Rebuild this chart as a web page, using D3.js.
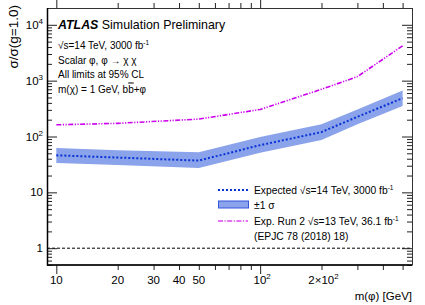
<!DOCTYPE html>
<html>
<head>
<meta charset="utf-8">
<script src="https://cdn.jsdelivr.net/npm/d3@7"></script>
<style>
  body { margin: 0; background: #fff; }
  svg { font-family: "Liberation Sans", Arial, sans-serif; }
</style>
</head>
<body>
<svg id="chart"></svg>
<script>
// m(phi) mass points [GeV]
const masses = [10, 20, 50, 100, 200, 300, 500];
// expected HL-LHC limit and its +-1 sigma band
const expected = [46, 42, 37, 70, 120, 225, 485];
const bandUp = [62, 57, 52, 98, 166, 305, 663];
const bandDown = [33.5, 31, 27.3, 51, 87, 165, 353];
// Run 2 expected limit (36.1 fb-1)
const run2 = [162, 172, 205, 305, 700, 1180, 4200];

const xMajor = [10, 100];
const xLabelled = [10, 20, 30, 40, 50, 100, 200];
const xMinor = [20, 30, 40, 50, 60, 70, 80, 90, 200, 300, 400, 500];
const yDecades = [1, 10, 100, 1000, 10000];

const config = {
  width: 425,
  height: 305,
  margin: { top: 8, right: 13, bottom: 40, left: 47 },
};

const width = config.width - config.margin.left - config.margin.right;
const height = config.height - config.margin.top - config.margin.bottom;

const svg = d3.select("#chart")
  .attr("width", config.width)
  .attr("height", config.height);

const chart = svg.append("g")
  .attr("transform", `translate(${config.margin.left},${config.margin.top})`);

const xScale = d3.scaleLog().domain([9, 556]).range([0, width]);
const yScale = d3.scaleLog().domain([0.5, 2e4]).range([height, 0]);

// y minor ticks: 2..9 of every decade, plus 0.5..0.9
let yMinor = [];
[0.1, 1, 10, 100, 1000, 10000].forEach(d => {
  for (let k = 2; k <= 9; k++) {
    const v = d * k;
    if (v >= 0.5 && v <= 2e4) yMinor.push(v);
  }
});

// ---- band and lines
const area = d3.area()
  .x((d, i) => xScale(masses[i]))
  .y0((d, i) => yScale(bandDown[i]))
  .y1((d, i) => yScale(bandUp[i]));

chart.append("path")
  .datum(masses)
  .attr("d", area)
  .attr("fill", "#8aa3ea");

const line = d3.line()
  .x(d => xScale(d[0]))
  .y(d => yScale(d[1]));

chart.append("path")
  .datum(masses.map((m, i) => [m, run2[i]]))
  .attr("d", line)
  .attr("fill", "none")
  .attr("stroke", "#cc00ee")
  .attr("stroke-width", 1.6)
  .attr("stroke-dasharray", "5,1.5,1.2,1.5,1.2,1.5");

chart.append("path")
  .datum(masses.map((m, i) => [m, expected[i]]))
  .attr("d", line)
  .attr("fill", "none")
  .attr("stroke", "#0a33d6")
  .attr("stroke-width", 2)
  .attr("stroke-dasharray", "2,2");

// reference line at 1
chart.append("line")
  .attr("x1", 0)
  .attr("x2", width)
  .attr("y1", yScale(1))
  .attr("y2", yScale(1))
  .attr("stroke", "#000")
  .attr("stroke-width", 1)
  .attr("stroke-dasharray", "3,2");

// ---- axes (ticks on all four sides, ROOT style)
function tickAxis(axisFn, scale, values, size) {
  return axisFn(scale).tickValues(values).tickSize(size).tickFormat("");
}

const axes = [
  [d3.axisTop, xScale, xMajor, -9, `translate(0,${height})`],
  [d3.axisTop, xScale, xMinor, -5, `translate(0,${height})`],
  [d3.axisBottom, xScale, xMajor, -9, "translate(0,0)"],
  [d3.axisBottom, xScale, xMinor, -5, "translate(0,0)"],
  [d3.axisRight, yScale, yDecades, 10, "translate(0,0)"],
  [d3.axisRight, yScale, yMinor, 5, "translate(0,0)"],
  [d3.axisLeft, yScale, yDecades, 10, `translate(${width},0)`],
  [d3.axisLeft, yScale, yMinor, 5, `translate(${width},0)`],
];

axes.forEach(([fn, scale, values, size, tr]) => {
  const g = chart.append("g")
    .attr("transform", tr)
    .call(tickAxis(fn, scale, values, size));
  g.select(".domain").remove();
  g.selectAll("line").attr("stroke", "#222");
});

// frame
chart.append("rect")
  .attr("x", 0.5)
  .attr("y", 0.5)
  .attr("width", width)
  .attr("height", height - 0.5)
  .attr("fill", "none")
  .attr("stroke", "#333")
  .attr("stroke-width", 1);
chart.append("path")
  .attr("d", `M0.5,0V${height}H${width}`)
  .attr("fill", "none")
  .attr("stroke", "#000")
  .attr("stroke-width", 1.5);

// ---- tick labels
function supLabel(sel, base, exp) {
  sel.append("tspan").text(base);
  if (exp) {
    sel.append("tspan")
      .attr("dy", -5)
      .style("font-size", "8px")
      .text(exp);
  }
}

const xLabelText = {
  10: ["10"], 20: ["20"], 30: ["30"], 40: ["40"], 50: ["50"],
  100: ["10", "2"], 200: ["2\u00d710", "2"],
};

xLabelled.forEach(v => {
  const t = chart.append("text")
    .attr("x", xScale(v) + (xLabelText[v][1] ? 2 : 0))
    .attr("y", height + 19)
    .attr("text-anchor", "middle")
    .style("font-size", "11.5px");
  supLabel(t, xLabelText[v][0], xLabelText[v][1]);
});

const yLabelText = {
  1: ["1"], 10: ["10"], 100: ["10", "2"], 1000: ["10", "3"], 10000: ["10", "4"],
};

yDecades.forEach(v => {
  const t = chart.append("text")
    .attr("x", -4)
    .attr("y", yScale(v) + 4)
    .attr("text-anchor", "end")
    .style("font-size", "11.5px");
  supLabel(t, yLabelText[v][0], yLabelText[v][1]);
});

// axis titles
svg.append("text")
  .attr("x", config.width - config.margin.right)
  .attr("y", 300)
  .attr("text-anchor", "end")
  .style("font-size", "11.5px")
  .text("m(\u03c6) [GeV]");

svg.append("text")
  .attr("transform", "translate(18,5) rotate(-90)")
  .attr("text-anchor", "end")
  .style("font-size", "13.5px")
  .text("\u03c3/\u03c3(g=1.0)");

// ---- ATLAS label and info
const header = chart.append("text")
  .attr("x", 11)
  .attr("y", 21)
  .style("font-size", "12.4px");
header.append("tspan")
  .style("font-weight", "bold")
  .style("font-style", "italic")
  .text("ATLAS");
header.append("tspan").text(" Simulation Preliminary");

function sqrtS(sel, energy, lumi) {
  sel.append("tspan").text(`\u221as=${energy} TeV, ${lumi} fb`);
  sel.append("tspan").attr("dy", -4).style("font-size", "6.5px").text("-1");
}

const info = [
  t => sqrtS(t, 14, 3000),
  t => t.append("tspan").text("Scalar \u03c6, \u03c6 \u2192 \u03c7 \u03c7"),
  t => t.append("tspan").text("All limits at 95% CL"),
  t => {
    t.append("tspan").text("m(\u03c7) = 1 GeV, b");
    t.append("tspan").style("text-decoration", "overline").text("b");
    t.append("tspan").text("+\u03c6");
  },
];

info.forEach((fn, i) => {
  const t = chart.append("text")
    .attr("x", 11)
    .attr("y", 41 + i * 14.5)
    .style("font-size", "10px");
  fn(t);
});

// ---- legend
const legend = chart.append("g")
  .attr("transform", `translate(${218 - config.margin.left},${190 - config.margin.top})`);

legend.append("line")
  .attr("x1", 0).attr("x2", 30).attr("y1", 0).attr("y2", 0)
  .attr("stroke", "#0a33d6").attr("stroke-width", 2)
  .attr("stroke-dasharray", "2,2");

legend.append("rect")
  .attr("x", 0.5).attr("y", 11).attr("width", 30).attr("height", 7)
  .attr("fill", "#8aa3ea").attr("stroke", "#3355dd").attr("stroke-width", 1);

legend.append("line")
  .attr("x1", 0).attr("x2", 30).attr("y1", 31).attr("y2", 31)
  .attr("stroke", "#dd44ee").attr("stroke-width", 1.4)
  .attr("stroke-dasharray", "5,1.5,1.2,1.5");

const legText = [
  [4, t => { t.append("tspan").text("Expected "); sqrtS(t, 14, 3000); }],
  [19, t => t.append("tspan").text("\u00b11 \u03c3")],
  [35, t => { t.append("tspan").text("Exp. Run 2 "); sqrtS(t, 13, 36.1); }],
  [50, t => t.append("tspan").text("(EPJC 78 (2018) 18)")],
];

legText.forEach(([y, fn]) => {
  const t = legend.append("text")
    .attr("x", 36)
    .attr("y", y)
    .style("font-size", "10.3px");
  fn(t);
});
</script>
</body>
</html>
